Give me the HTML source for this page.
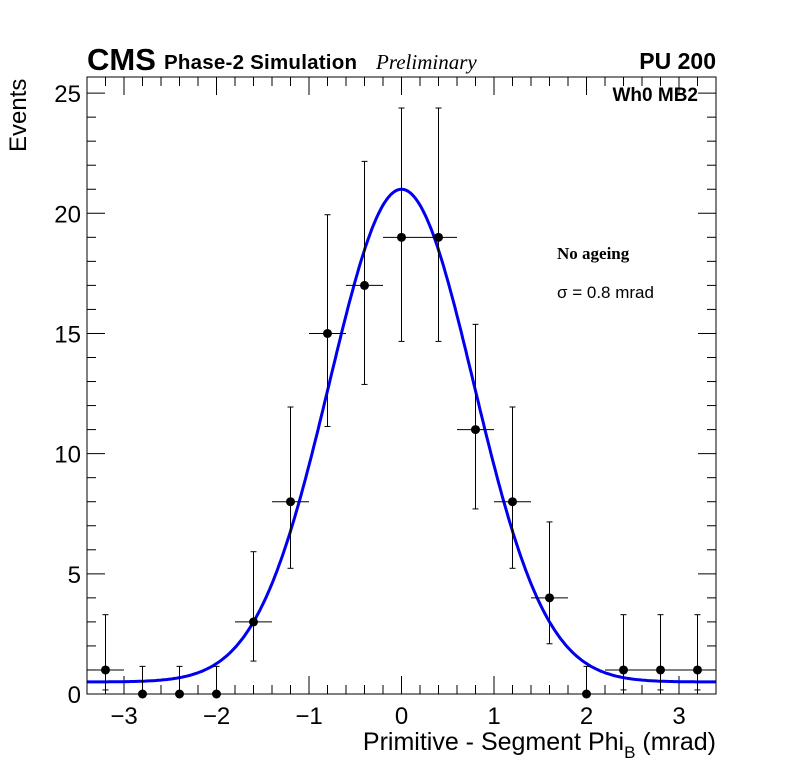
<!DOCTYPE html>
<html><head><meta charset="utf-8"><style>
body{margin:0;background:#fff;}
svg text{font-family:"Liberation Sans",sans-serif;}
</style></head><body>
<svg id="chart" width="796" height="772" xmlns="http://www.w3.org/2000/svg">
<rect x="0" y="0" width="796" height="772" fill="#fff"/>
<g id="ticks"></g>
<g id="marks"></g>
<rect x="87" y="77" width="629" height="617" fill="none" stroke="#000" stroke-width="1"/>
<text x="87" y="70" font-size="31" font-weight="bold">CMS</text>
<text x="164" y="69" font-size="20.5" font-weight="bold" textLength="193">Phase-2 Simulation</text>
<text x="376" y="69" font-size="21" font-style="italic" style="font-family:'Liberation Serif',serif">Preliminary</text>
<text x="716" y="69" font-size="23" font-weight="bold" text-anchor="end">PU 200</text>
<text x="698" y="101" font-size="19" font-weight="bold" text-anchor="end">Wh0 MB2</text>
<text x="557" y="259" font-size="17" font-weight="bold" style="font-family:'Liberation Serif',serif">No ageing</text>
<text x="557" y="298" font-size="17">σ = 0.8 mrad</text>
<text x="716" y="750" font-size="25" text-anchor="end">Primitive - Segment Phi<tspan font-size="17" dy="8">B</tspan><tspan dy="-8"> (mrad)</tspan></text>
<text transform="translate(26,152) rotate(-90)" font-size="24">Events</text>
</svg>
<script>
const binCenters=[-3.2,-2.8,-2.4,-2.0,-1.6,-1.2,-0.8,-0.4,0,0.4,0.8,1.2,1.6,2.0,2.4,2.8,3.2];
const counts=[1,0,0,0,3,8,15,17,19,19,11,8,4,0,1,1,1];
const errLow=[0.83,0,0,0,1.63,2.77,3.87,4.12,4.33,4.33,3.3,2.77,1.91,0,0.83,0.83,0.83];
const errHigh=[2.3,1.15,1.15,1.15,2.92,3.94,4.94,5.16,5.38,5.38,4.38,3.94,3.16,1.15,2.3,2.3,2.3];
const xTicks=[-3,-2,-1,0,1,2,3];
const yTicks=[0,5,10,15,20,25];
const fitAmp=20.5, fitMean=0.0, fitSigma=0.78, fitBase=0.5;
const xMin=-3.4,xMax=3.4,yMin=0,yMax=25.67;
const L=87,R=716,T=77,B=694;
const X=v=>L+(v-xMin)/(xMax-xMin)*(R-L);
const Y=v=>B-(v-yMin)/(yMax-yMin)*(B-T);
const NS="http://www.w3.org/2000/svg";
function mk(tag,attrs,parent){const e=document.createElementNS(NS,tag);for(const k in attrs)e.setAttribute(k,attrs[k]);parent.appendChild(e);return e;}
const tg=document.getElementById('ticks');
for(let i=-17;i<=17;i++){const v=i*0.2;if(v<xMin-1e-9||v>xMax+1e-9)continue;const maj=Math.abs(v-Math.round(v))<1e-6;const len=maj?18:9;
 const t=mk('line',{x1:X(v),x2:X(v),y1:B,y2:B-len,stroke:'#000','stroke-width':1},tg);
 
 
 const t2=mk('line',{x1:X(v),x2:X(v),y1:T,y2:T+len,stroke:'#000','stroke-width':1},tg);
 
 }
xTicks.forEach(v=>{const t=mk('text',{x:X(v),y:724,'font-size':24,'text-anchor':'middle'},tg);t.textContent=(v<0?'\u2212'+(-v):''+v);
 
 });
for(let v=0;v<=25;v++){const len=v%5==0?18:9;
 const t=mk('line',{x1:L,x2:L+len,y1:Y(v),y2:Y(v),stroke:'#000','stroke-width':1},tg);
 
 
 const t2=mk('line',{x1:R,x2:R-len,y1:Y(v),y2:Y(v),stroke:'#000','stroke-width':1},tg);
 
 }
yTicks.forEach(v=>{const t=mk('text',{x:81,y:Y(v)+9,'font-size':24,'text-anchor':'end'},tg);t.textContent=v;
 
 });
const mg=document.getElementById('marks');
let d='';for(let i=0;i<=400;i++){const x=xMin+(xMax-xMin)*i/400;const y=fitBase+fitAmp*Math.exp(-((x-fitMean)**2)/(2*fitSigma*fitSigma));d+=(i?'L':'M')+X(x).toFixed(1)+','+Y(y).toFixed(1);}
const fit=mk('path',{d:d,fill:'none',stroke:'#0000ee','stroke-width':3},mg);


binCenters.forEach((c,i)=>{const g=mk('g',{},mg);
 
 
 const x=X(c),y=Y(counts[i]);
 mk('line',{x1:X(c-0.2),x2:X(c+0.2),y1:y,y2:y,stroke:'#000','stroke-width':1},g);
 const yl=Y(counts[i]-errLow[i]),yh=Y(counts[i]+errHigh[i]);
 mk('line',{x1:x,x2:x,y1:yl,y2:yh,stroke:'#000','stroke-width':1},g);
 mk('line',{x1:x-3,x2:x+3,y1:yh,y2:yh,stroke:'#000','stroke-width':1},g);
 if(errLow[i]>0)mk('line',{x1:x-3,x2:x+3,y1:yl,y2:yl,stroke:'#000','stroke-width':1},g);
 mk('circle',{cx:x,cy:y,r:4.5,fill:'#000'},g);});
</script>
</body></html>
